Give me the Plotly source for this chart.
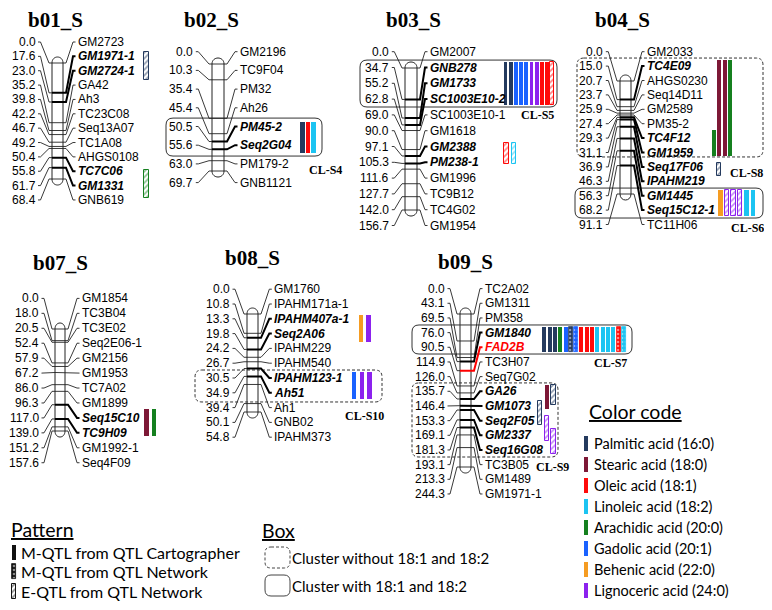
import plotly.graph_objects as go

W, H = 772, 610
PAGE_MARGIN = 8  # browser body margin; the figure is offset by this much

# ---------------- data ----------------
B01_CM = [0.0, 17.6, 23.0, 35.2, 39.8, 42.2, 46.7, 49.2, 50.4, 55.8, 61.7, 68.4]
B01_MARKERS = ['GM2723', 'GM1971-1', 'GM2724-1', 'GA42', 'Ah3', 'TC23C08', 'Seq13A07',
               'TC1A08', 'AHGS0108', 'TC7C06', 'GM1331', 'GNB619']
B01_QTL = ['GM1971-1', 'GM2724-1', 'TC7C06', 'GM1331']

B02_CM = [0.0, 10.3, 35.4, 45.4, 50.5, 55.6, 63.0, 69.7]
B02_MARKERS = ['GM2196', 'TC9F04', 'PM32', 'Ah26', 'PM45-2', 'Seq2G04', 'PM179-2', 'GNB1121']
B02_QTL = ['PM45-2', 'Seq2G04']

B03_CM = [0.0, 34.7, 55.2, 62.8, 69.0, 90.0, 97.1, 105.3, 111.6, 127.7, 142.0, 156.7]
B03_MARKERS = ['GM2007', 'GNB278', 'GM1733', 'SC1003E10-2', 'SC1003E10-1', 'GM1618',
               'GM2388', 'PM238-1', 'GM1996', 'TC9B12', 'TC4G02', 'GM1954']
B03_QTL = ['GNB278', 'GM1733', 'SC1003E10-2', 'GM2388', 'PM238-1']

B04_CM = [0.0, 15.0, 20.7, 23.7, 25.9, 27.4, 29.3, 31.1, 36.9, 46.3, 56.3, 68.2, 91.1]
B04_MARKERS = ['GM2033', 'TC4E09', 'AHGS0230', 'Seq14D11', 'GM2589', 'PM35-2', 'TC4F12',
               'GM1959', 'Seq17F06', 'IPAHM219', 'GM1445', 'Seq15C12-1', 'TC11H06']
B04_QTL = ['TC4E09', 'TC4F12', 'GM1959', 'Seq17F06', 'IPAHM219', 'GM1445', 'Seq15C12-1']

B07_CM = [0.0, 18.0, 20.5, 52.4, 57.9, 67.2, 86.0, 96.3, 117.0, 139.0, 151.2, 157.6]
B07_MARKERS = ['GM1854', 'TC3B04', 'TC3E02', 'Seq2E06-1', 'GM2156', 'GM1953', 'TC7A02',
               'GM1899', 'Seq15C10', 'TC9H09', 'GM1992-1', 'Seq4F09']
B07_QTL = ['Seq15C10', 'TC9H09']

B08_CM = [0.0, 10.8, 13.3, 19.8, 24.2, 26.7, 30.5, 34.9, 39.4, 50.1, 54.8]
B08_MARKERS = ['GM1760', 'IPAHM171a-1', 'IPAHM407a-1', 'Seq2A06', 'IPAHM229', 'IPAHM540',
               'IPAHM123-1', 'Ah51', 'Ah1', 'GNB02', 'IPAHM373']
B08_QTL = ['IPAHM407a-1', 'Seq2A06', 'IPAHM123-1', 'Ah51']

B09_CM = [0.0, 43.1, 69.5, 76.0, 90.5, 114.9, 126.0, 135.7, 146.4, 153.3, 169.1, 181.3,
          193.1, 213.3, 244.3]
B09_MARKERS = ['TC2A02', 'GM1311', 'PM358', 'GM1840', 'FAD2B', 'TC3H07', 'Seq7G02', 'GA26',
               'GM1073', 'Seq2F05', 'GM2337', 'Seq16G08', 'TC3B05', 'GM1489', 'GM1971-1']
B09_QTL = ['GM1840', 'FAD2B', 'GA26', 'GM1073', 'Seq2F05', 'GM2337', 'Seq16G08']
HIGHLIGHT_MARKERS = ['FAD2B']

TRAIT_CODES = ['16:0', '18:0', '18:1', '18:2', '20:0', '20:1', '22:0', '24:0']
TRAIT_NAMES = ['Palmitic acid', 'Stearic acid', 'Oleic acid', 'Linoleic acid',
               'Arachidic acid', 'Gadolic acid', 'Behenic acid', 'Lignoceric acid']
PATTERN_CODES = ['C', 'N', 'E']
PATTERN_NAMES = ['M-QTL from QTL Cartographer', 'M-QTL from QTL Network', 'E-QTL from QTL Network']
BOX_NAMES = ['Cluster without 18:1 and 18:2', 'Cluster with 18:1 and 18:2']

# QTL bars per group: trait, pattern, span in marker-row units, column
Q_B01_TRAIT = ['16:0', '20:0']
Q_B01_PAT = ['E', 'E']
Q_B01_FROM = [0.70, 8.91]
Q_B01_TO = [2.65, 10.86]
Q_B01_COL = [0, 0]

Q_S4_TRAIT = ['16:0', '18:1', '18:2']
Q_S4_PAT = ['C', 'C', 'C']
Q_S4_FROM = [3.76, 3.76, 3.76]
Q_S4_TO = [5.42, 5.42, 5.42]
Q_S4_COL = [0, 1, 2]

Q_S5_TRAIT = ['16:0', '16:0', '20:1', '20:1', '20:1', '24:0', '24:0', '18:1', '18:1', '18:1']
Q_S5_PAT = ['C', 'C', 'C', 'C', 'C', 'C', 'C', 'C', 'C', 'E']
Q_S5_FROM = [0.65] * 10
Q_S5_TO = [3.37] * 10
Q_S5_COL = [0, 1, 2, 3, 4, 5, 6, 7, 8, 9]

Q_B03_TRAIT = ['18:1', '18:2']
Q_B03_PAT = ['E', 'E']
Q_B03_FROM = [5.78, 5.78]
Q_B03_TO = [7.11, 7.11]
Q_B03_COL = [0, 1]

Q_S8_TRAIT = ['20:0', '18:0', '18:0', '20:0', '16:0']
Q_S8_PAT = ['C', 'C', 'C', 'C', 'E']
Q_S8_FROM = [5.44, 0.58, 0.58, 0.58, 7.73]
Q_S8_TO = [7.24, 7.24, 7.24, 7.24, 8.63]
Q_S8_COL = [0, 1, 2, 3, 1]

Q_S6_TRAIT = ['22:0', '24:0', '24:0', '24:0', '18:2', '18:2']
Q_S6_PAT = ['C', 'E', 'E', 'E', 'C', 'C']
Q_S6_FROM = [9.6] * 6
Q_S6_TO = [11.4] * 6
Q_S6_COL = [0, 1, 2, 3, 4, 5]

Q_B07_TRAIT = ['18:0', '20:0']
Q_B07_PAT = ['C', 'C']
Q_B07_FROM = [7.4, 7.4]
Q_B07_TO = [9.21, 9.21]
Q_B07_COL = [0, 1]

Q_B08_TRAIT = ['22:0', '24:0']
Q_B08_PAT = ['C', 'C']
Q_B08_FROM = [1.74, 1.74]
Q_B08_TO = [3.57, 3.57]
Q_B08_COL = [0, 1]

Q_S10_TRAIT = ['20:1', '24:0', '24:0']
Q_S10_PAT = ['C', 'C', 'C']
Q_S10_FROM = [5.59] * 3
Q_S10_TO = [7.42] * 3
Q_S10_COL = [0, 1, 2]

Q_S7_TRAIT = ['16:0', '16:0', '16:0', '20:0', '20:1', '16:0', '20:1', '18:1', '18:1', '18:1',
              '18:2', '18:2', '18:2', '18:2', '18:1', '18:2']
Q_S7_PAT = ['C', 'C', 'C', 'C', 'C', 'N', 'N', 'C', 'C', 'C', 'C', 'C', 'C', 'C', 'N', 'N']
Q_S7_FROM = [2.62] * 16
Q_S7_TO = [4.32] * 16
Q_S7_COL = list(range(16))

Q_S9_TRAIT = ['18:0', '16:0', '16:0', '24:0', '24:0']
Q_S9_PAT = ['C', 'E', 'E', 'E', 'E']
Q_S9_FROM = [6.57, 6.57, 7.66, 8.68, 9.57]
Q_S9_TO = [8.20, 7.94, 9.30, 10.39, 11.27]
Q_S9_COL = [1, 2, 0, 1, 2]

# cluster boxes: name, group, row span, solid/dashed
BOX_LABELS = ['CL-S4', 'CL-S5', 'CL-S8', 'CL-S6', 'CL-S10', 'CL-S7', 'CL-S9']
BOX_GROUPS = ['b02_S', 'b03_S', 'b04_S', 'b04_S', 'b08_S', 'b09_S', 'b09_S']
BOX_FROM = [3.55, 0.53, 0.44, 9.47, 5.46, 2.48, 6.43]
BOX_TO = [5.58, 3.50, 7.31, 11.55, 7.62, 4.46, 11.48]
BOX_KIND = ['solid', 'solid', 'dash', 'solid', 'dash', 'solid', 'dash']

# ---------------- styles / layout ----------------
SANS = 'Arial, Liberation Sans, sans-serif'
SERIF = 'Times New Roman, Liberation Serif, serif'
LEG = 'Lato, Open Sans, sans-serif'

TRAIT_COLORS = {'16:0': '#243a5e', '18:0': '#7d1836', '18:1': '#ff0a0a', '18:2': '#1cc4f2',
                '20:0': '#15801f', '20:1': '#1a62ff', '22:0': '#f59c22', '24:0': '#8c22ee'}

LG_LAYOUT = {
    'b01_S': dict(tx=55, ty=19.5, y0=42.0, dy=14.36, pr=35.5, cx0=52, cx1=63, ct=57, cb=185, ml=78),
    'b02_S': dict(tx=211, ty=20, y0=51.7, dy=18.7, pr=193.3, cx0=212, cx1=224, ct=58, cb=177, ml=240),
    'b03_S': dict(tx=413, ty=19.5, y0=51.7, dy=15.8, pr=389.3, cx0=405, cx1=417, ct=62, cb=216, ml=430),
    'b04_S': dict(tx=622, ty=20, y0=51.7, dy=14.4, pr=603.3, cx0=620, cx1=631, ct=75, cb=200, ml=647),
    'b07_S': dict(tx=60, ty=263, y0=298.4, dy=14.94, pr=39, cx0=55, cx1=65, ct=323, cb=437, ml=82),
    'b08_S': dict(tx=252, ty=258, y0=289.2, dy=14.8, pr=230, cx0=247, cx1=258, ct=308, cb=418, ml=274.3),
    'b09_S': dict(tx=465, ty=262, y0=288.6, dy=14.67, pr=445, cx0=460, cx1=471, ct=308, cb=473, ml=485),
}

LGS = [('b01_S', B01_CM, B01_MARKERS, B01_QTL), ('b02_S', B02_CM, B02_MARKERS, B02_QTL),
       ('b03_S', B03_CM, B03_MARKERS, B03_QTL), ('b04_S', B04_CM, B04_MARKERS, B04_QTL),
       ('b07_S', B07_CM, B07_MARKERS, B07_QTL), ('b08_S', B08_CM, B08_MARKERS, B08_QTL),
       ('b09_S', B09_CM, B09_MARKERS, B09_QTL)]

# cluster bar placement: group, x of first column, column step, bar width
CLUSTERS = [
    ('b01_S', Q_B01_TRAIT, Q_B01_PAT, Q_B01_FROM, Q_B01_TO, Q_B01_COL, 146.3, 0, 4.5),
    ('b02_S', Q_S4_TRAIT, Q_S4_PAT, Q_S4_FROM, Q_S4_TO, Q_S4_COL, 302.5, 5.5, 4.5),
    ('b03_S', Q_S5_TRAIT, Q_S5_PAT, Q_S5_FROM, Q_S5_TO, Q_S5_COL, 505.5, 5.2, 3.9),
    ('b03_S', Q_B03_TRAIT, Q_B03_PAT, Q_B03_FROM, Q_B03_TO, Q_B03_COL, 506.7, 7.3, 4.5),
    ('b04_S', Q_S8_TRAIT, Q_S8_PAT, Q_S8_FROM, Q_S8_TO, Q_S8_COL, 714.2, 5.2, 4.0),
    ('b04_S', Q_S6_TRAIT, Q_S6_PAT, Q_S6_FROM, Q_S6_TO, Q_S6_COL, 720.5, 6.5, 4.5),
    ('b07_S', Q_B07_TRAIT, Q_B07_PAT, Q_B07_FROM, Q_B07_TO, Q_B07_COL, 146.7, 7.5, 4.5),
    ('b08_S', Q_B08_TRAIT, Q_B08_PAT, Q_B08_FROM, Q_B08_TO, Q_B08_COL, 361.2, 7.2, 4.3),
    ('b08_S', Q_S10_TRAIT, Q_S10_PAT, Q_S10_FROM, Q_S10_TO, Q_S10_COL, 353.8, 7.9, 4.3),
    ('b09_S', Q_S7_TRAIT, Q_S7_PAT, Q_S7_FROM, Q_S7_TO, Q_S7_COL, 544.3, 5.31, 4.0),
    ('b09_S', Q_S9_TRAIT, Q_S9_PAT, Q_S9_FROM, Q_S9_TO, Q_S9_COL, 540.0, 6.8, 4.5),
]

BOX_X = {'CL-S4': (166, 322), 'CL-S5': (360, 557), 'CL-S8': (577, 763), 'CL-S6': (575, 763),
         'CL-S10': (195, 382), 'CL-S7': (412, 632), 'CL-S9': (412, 558)}
BOX_LABEL_POS = {'CL-S4': (325, 170), 'CL-S5': (537, 115), 'CL-S8': (746, 173),
                 'CL-S6': (747, 228), 'CL-S10': (364, 416), 'CL-S7': (610, 363),
                 'CL-S9': (552, 467)}


def row_y(L, r):
    return L['y0'] + r * L['dy']


def rrect(x0, y0, x1, y1, r):
    return (f'M{x0+r},{y0} L{x1-r},{y0} Q{x1},{y0} {x1},{y0+r} L{x1},{y1-r} '
            f'Q{x1},{y1} {x1-r},{y1} L{x0+r},{y1} Q{x0},{y1} {x0},{y1-r} '
            f'L{x0},{y0+r} Q{x0},{y0} {x0+r},{y0} Z')


fig = go.Figure()
shapes = []
ann = []


def text(x, y, s, size, family=SANS, anchor='left', color='black'):
    ann.append(dict(x=x, y=y, xref='x', yref='y', text=s, showarrow=False,
                    xanchor=anchor, yanchor='middle', borderpad=0, borderwidth=0,
                    font=dict(family=family, size=size, color=color)))


CAP = 6
thin_x, thin_y, thick_x, thick_y, red_x, red_y = [], [], [], [], [], []
for name, cms, markers, qtl in LGS:
    L = LG_LAYOUT[name]
    text(L['tx'], L['ty'], f'<b>{name}</b>', 21, SERIF, 'center')
    x0, x1, ct, cb = L['cx0'], L['cx1'], L['ct'], L['cb']
    # chromosome outline
    shapes.append(dict(type='path', xref='x', yref='y', layer='below',
                       path=(f'M{x0},{ct+CAP} C{x0},{ct-CAP/3} {x1},{ct-CAP/3} {x1},{ct+CAP} '
                             f'L{x1},{cb-CAP} C{x1},{cb+CAP/3} {x0},{cb+CAP/3} {x0},{cb-CAP} Z'),
                       fillcolor='white', line=dict(color='#222', width=1)))
    top, bot = ct + CAP, cb - CAP
    span = max(cms)
    for i, (cm, mk) in enumerate(zip(cms, markers)):
        ry = row_y(L, i)
        my = top + cm / span * (bot - top)
        # left connector
        thin_x += [L['pr'] + 2.5, L['pr'] + 5, x0 - 3, x0, None]
        thin_y += [ry, ry, my, my, None]
        seg_x = [x0, x1, x1 + 3, L['ml'] - 5, L['ml'] - 2.5, None]
        seg_y = [my, my, my, ry, ry, None]
        if mk in HIGHLIGHT_MARKERS:
            red_x += seg_x
            red_y += seg_y
        elif mk in qtl:
            thick_x += seg_x
            thick_y += seg_y
        else:
            thin_x += seg_x
            thin_y += seg_y
        text(L['pr'], ry, f'{cm:.1f}', 12, SANS, 'right')
        if mk in qtl:
            col = 'red' if mk in HIGHLIGHT_MARKERS else 'black'
            text(L['ml'], ry, f'<b><i>{mk}</i></b>', 12, SANS, 'left', col)
        else:
            text(L['ml'], ry, mk, 12, SANS, 'left')

fig.add_trace(go.Scatter(x=thin_x, y=thin_y, mode='lines', line=dict(color='#222', width=0.9),
                         hoverinfo='skip', showlegend=False))
fig.add_trace(go.Scatter(x=thick_x, y=thick_y, mode='lines', line=dict(color='black', width=2),
                         hoverinfo='skip', showlegend=False))
fig.add_trace(go.Scatter(x=red_x, y=red_y, mode='lines', line=dict(color='red', width=2),
                         hoverinfo='skip', showlegend=False))

# cluster boxes
for lab, g, r0, r1, kind in zip(BOX_LABELS, BOX_GROUPS, BOX_FROM, BOX_TO, BOX_KIND):
    L = LG_LAYOUT[g]
    bx0, bx1 = BOX_X[lab]
    shapes.append(dict(type='path', xref='x', yref='y', layer='below',
                       path=rrect(bx0, row_y(L, r0), bx1, row_y(L, r1), 7),
                       line=dict(color='#333', width=1, dash='solid' if kind == 'solid' else '3px,2px')))
    lx, ly = BOX_LABEL_POS[lab]
    text(lx, ly, f'<b>{lab}</b>', 12, SERIF, 'center')


def bar_style(code, pat):
    c = TRAIT_COLORS.get(code, code)
    if pat == 'C':
        return dict(color=c, line=dict(width=0))
    if pat == 'N':
        return dict(color=c, line=dict(color=c, width=0.8),
                    pattern=dict(shape='.', bgcolor=c, fgcolor='white', size=4, solidity=0.35))
    return dict(color=c, line=dict(color=c, width=1),
                pattern=dict(shape='/', bgcolor='white', fgcolor=c, size=4, solidity=0.45))


def add_bar(xc, ytop, ybot, w, marker):
    fig.add_trace(go.Bar(x=[xc], y=[ybot - ytop], base=[ytop], width=[w], marker=marker,
                         hoverinfo='skip', showlegend=False))


for g, tr, pa, rf, rt, cols, xs, step, w in CLUSTERS:
    L = LG_LAYOUT[g]
    for t, p, a, b, c in zip(tr, pa, rf, rt, cols):
        add_bar(xs + c * step, row_y(L, a), row_y(L, b), w, bar_style(t, p))

# ---- Color code legend ----
text(589, 411, '<u>Color code</u>', 19.5, LEG)
for i, (code, nm) in enumerate(zip(TRAIT_CODES, TRAIT_NAMES)):
    ry = 443.5 + i * 21
    add_bar(586, ry - 7.5, ry + 7.5, 4, bar_style(code, 'C'))
    text(594, ry, f'{nm} ({code})', 14.5, LEG)

# ---- Pattern legend ----
text(11, 529, '<u>Pattern</u>', 19.5, LEG)
for i, (code, nm) in enumerate(zip(PATTERN_CODES, PATTERN_NAMES)):
    ry = 552 + i * 19.5
    add_bar(14, ry - 7.5, ry + 7.5, 4.5, bar_style('#111111', code))
    text(21, ry, nm, 16, LEG)

# ---- Box legend ----
text(262, 530, '<u>Box</u>', 19.5, LEG)
for i, nm in enumerate(BOX_NAMES):
    yt = 547 + i * 28
    shapes.append(dict(type='path', xref='x', yref='y', layer='below',
                       path=rrect(265, yt, 290, yt + 21, 6),
                       line=dict(color='#444', width=1, dash='3px,2px' if i == 0 else 'solid')))
    text(292, yt + 10.5, nm, 15, LEG)

fig.update_layout(
    width=W - PAGE_MARGIN, height=H - PAGE_MARGIN, margin=dict(l=0, r=0, t=0, b=0), autosize=False,
    paper_bgcolor='white', plot_bgcolor='white', barmode='overlay', bargap=0,
    xaxis=dict(range=[PAGE_MARGIN, W], visible=False, fixedrange=True),
    yaxis=dict(range=[H, PAGE_MARGIN], visible=False, fixedrange=True),
    shapes=shapes, annotations=ann, showlegend=False,
)
fig.write_html('out.html')
